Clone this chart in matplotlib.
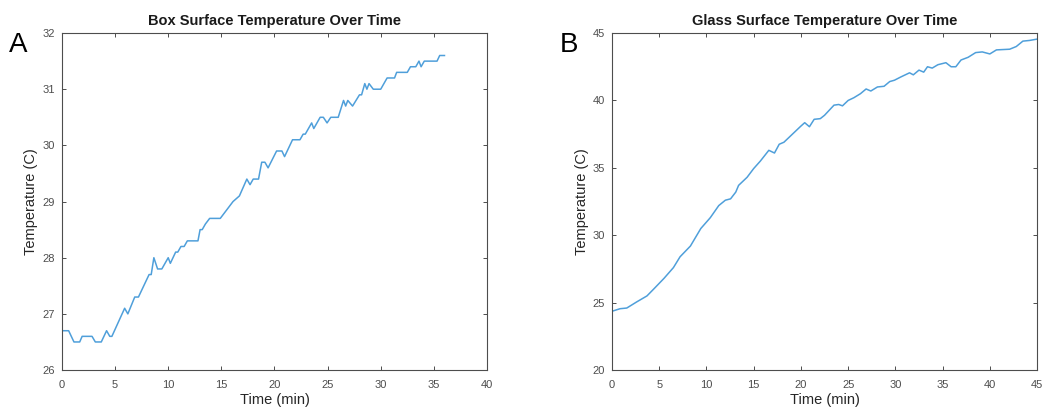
#!/usr/bin/env python3

import matplotlib
matplotlib.use('Agg')
import matplotlib.pyplot as plt

plt.rcParams['font.family'] = ['Liberation Sans', 'DejaVu Sans']

# Box surface temperature (panel A)
box_time = [0, 0.63, 1.13, 1.67, 1.9, 2.83, 3.14, 3.7, 4.2, 4.5, 4.7, 5.9, 6.2,
            6.85, 7.2, 8.2, 8.4, 8.65, 9.0, 9.4, 10.0, 10.2, 10.7, 10.9, 11.2,
            11.5, 11.8, 12.8, 13.0, 13.2, 13.5, 13.9, 14.9, 15.3, 15.7, 16.1,
            16.7, 17.4, 17.7, 18.0, 18.5, 18.8, 19.1, 19.4, 20.2, 20.7, 20.95,
            21.7, 22.4, 22.7, 22.9, 23.5, 23.7, 24.3, 24.6, 24.95, 25.3, 26.0,
            26.5, 26.7, 26.9, 27.35, 28.0, 28.2, 28.5, 28.7, 28.9, 29.3, 30.0,
            30.6, 31.3, 31.5, 32.5, 32.8, 33.3, 33.6, 33.8, 34.1, 35.3, 35.55,
            36.0]
box_temp = [26.7, 26.7, 26.5, 26.5, 26.6, 26.6, 26.5, 26.5, 26.7, 26.6, 26.6,
            27.1, 27.0, 27.3, 27.3, 27.7, 27.7, 28.0, 27.8, 27.8, 28.0, 27.9,
            28.1, 28.1, 28.2, 28.2, 28.3, 28.3, 28.5, 28.5, 28.6, 28.7, 28.7,
            28.8, 28.9, 29.0, 29.1, 29.4, 29.3, 29.4, 29.4, 29.7, 29.7, 29.6,
            29.9, 29.9, 29.8, 30.1, 30.1, 30.2, 30.2, 30.4, 30.3, 30.5, 30.5,
            30.4, 30.5, 30.5, 30.8, 30.7, 30.8, 30.7, 30.9, 30.9, 31.1, 31.0,
            31.1, 31.0, 31.0, 31.2, 31.2, 31.3, 31.3, 31.4, 31.4, 31.5, 31.4,
            31.5, 31.5, 31.6, 31.6]

# Glass surface temperature (panel B)
glass_time = [0, 0.85, 1.56, 2.6, 3.7, 4.4, 5.5, 6.5, 7.2, 8.3, 9.4, 10.4,
              11.3, 12.0, 12.55, 13.1, 13.4, 14.3, 15.0, 15.7, 16.6, 17.2,
              17.7, 18.2, 19.1, 20.0, 20.4, 20.9, 21.4, 22.05, 22.5, 23.5,
              24.0, 24.4, 25.0, 25.6, 26.3, 26.9, 27.4, 28.1, 28.8, 29.4,
              29.9, 30.6, 31.5, 31.9, 32.5, 33.0, 33.4, 33.9, 34.5, 35.35,
              35.9, 36.4, 36.95, 37.7, 38.5, 39.2, 40.0, 40.7, 42.1, 42.8,
              43.5, 44.2, 45.0]
glass_temp = [24.36, 24.55, 24.6, 25.05, 25.5, 26.0, 26.8, 27.6, 28.4, 29.2,
              30.5, 31.3, 32.2, 32.6, 32.7, 33.2, 33.7, 34.3, 34.95, 35.5,
              36.3, 36.1, 36.75, 36.9, 37.5, 38.1, 38.35, 38.05, 38.6, 38.65,
              38.9, 39.65, 39.7, 39.6, 40.0, 40.2, 40.5, 40.85, 40.7, 41.0,
              41.05, 41.4, 41.5, 41.75, 42.05, 41.9, 42.25, 42.1, 42.5, 42.4,
              42.65, 42.8, 42.5, 42.5, 43.0, 43.2, 43.55, 43.6, 43.45, 43.75,
              43.8, 44.0, 44.4, 44.45, 44.55]

line_color = '#4f9fda'
axis_color = '#4d4d4d'

fig = plt.figure(figsize=(10.43, 4.13), dpi=100)


def style_axes(ax, title, xlim, ylim, xticks, yticks):
    ax.set_xlim(xlim)
    ax.set_ylim(ylim)
    ax.set_xticks(xticks)
    ax.set_yticks(yticks)
    ax.tick_params(direction='in', top=True, right=True, length=3,
                   width=0.7, colors=axis_color, labelsize=8)
    ax.tick_params(axis='x', pad=7)
    ax.tick_params(axis='y', pad=5)
    for s in ax.spines.values():
        s.set_color(axis_color)
        s.set_linewidth(0.8)
    ax.set_title(title, fontsize=10.5, fontweight='bold', color='#1a1a1a', pad=6)
    ax.set_xlabel('Time (min)', fontsize=10.5, color='#262626', labelpad=2)
    ax.set_ylabel('Temperature (C)', fontsize=10.5, color='#262626', labelpad=3)


ax1 = fig.add_axes([0.0594, 0.104, 0.4075, 0.816])
ax1.plot(box_time, box_temp, color=line_color, lw=1.1)
style_axes(ax1, 'Box Surface Temperature Over Time', (0, 40), (26, 32),
           range(0, 41, 5), range(26, 33))

ax2 = fig.add_axes([0.5868, 0.104, 0.4075, 0.816])
ax2.plot(glass_time, glass_temp, color=line_color, lw=1.1)
style_axes(ax2, 'Glass Surface Temperature Over Time', (0, 45), (20, 45),
           range(0, 46, 5), range(20, 46, 5))

fig.text(0.009, 0.873, 'A', fontsize=20, color='black')
fig.text(0.537, 0.873, 'B', fontsize=20, color='black')

plt.savefig('out.png', dpi=100)
